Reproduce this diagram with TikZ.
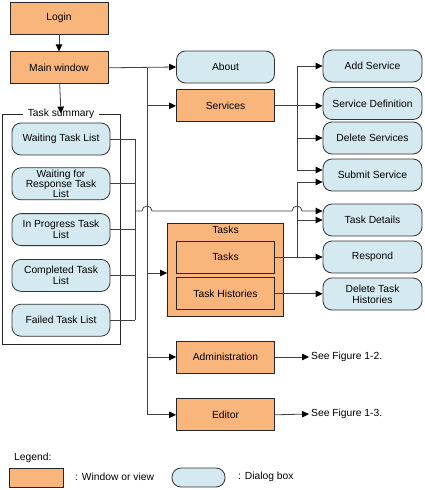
\documentclass[tikz,border=0pt]{standalone}
\usepackage{fontspec}
\setmainfont{Liberation Sans}
\usetikzlibrary{positioning,calc,arrows.meta}
\definecolor{winorange}{RGB}{248,182,125}
\definecolor{dlgblue}{RGB}{212,234,240}
\tikzset{winnode/.style={shape=rectangle, draw=black!85, fill=winorange, line width=0.8pt, minimum width=98pt, minimum height=32pt, inner sep=1pt, align=center, font=\fontsize{10.3}{11}\selectfont}}
\tikzset{dlgnode/.style={shape=rectangle, rounded corners=9pt, draw=black!80, fill=dlgblue, line width=0.8pt, minimum width=98pt, minimum height=32pt, inner sep=1pt, align=center, font=\fontsize{10.3}{11}\selectfont}}
\tikzset{plaintext/.style={inner sep=2pt, font=\fontsize{10.3}{11}\selectfont}}
\tikzset{conn/.style={draw=black!75, line width=0.8pt}}
\tikzset{arr/.style={conn, -{Triangle[length=7pt,width=6.5pt,black]}}}

\begin{document}
\begin{tikzpicture}[x=1pt,y=-1pt]
\useasboundingbox (0,0) rectangle (424,490);
%Nodes
\node[winnode]   (login)  at (59,18)   {Login};
\node[winnode]   (main)   [below=17pt of login] {Main window};
\node[draw=black!85, line width=0.8pt, minimum width=118pt, minimum height=230pt] (summary) at (61,229) {};
\node[plaintext, fill=white, inner sep=5pt] (sumlabel) at (summary.north) {Task summary};
\node[dlgnode]   (wait)   at (61,139)  {Waiting Task List};
\node[dlgnode, font=\fontsize{10.3}{10.3}\selectfont] (resp) [below=12pt of wait] {Waiting for\\Response Task\\List};
\node[dlgnode]   (prog)   [below=13pt of resp] {In Progress Task\\List};
\node[dlgnode]   (done)   [below=13pt of prog] {Completed Task\\List};
\node[dlgnode]   (failed) [below=12pt of done] {Failed Task List};
\node[dlgnode]   (about)    at (225.5,67)  {About};
\node[winnode]   (services) [below=6pt of about] {Services};
\node[winnode, minimum width=116pt, minimum height=93pt] (taskbox) at (225.5,269.5) {};
\node[plaintext] (tasklabel) at (225.5,230) {Tasks};
\node[winnode]   (tasksin)  at (225.5,257) {Tasks};
\node[winnode]   (taskhist) [below=4pt of tasksin] {Task Histories};
\node[winnode]   (admin)    at (225.5,357) {Administration};
\node[winnode]   (editor)   [below=25pt of admin] {Editor};
\node[dlgnode, minimum width=99pt] (addsvc)  at (372.5,66)  {Add Service};
\node[dlgnode, minimum width=99pt] (svcdef)  at (372.5,103.5) {Service Definition};
\node[dlgnode, minimum width=99pt] (delsvc)  at (372.5,138) {Delete Services};
\node[dlgnode, minimum width=99pt] (submit)  at (372.5,175) {Submit Service};
\node[dlgnode, minimum width=99pt] (details) at (372.5,220) {Task Details};
\node[dlgnode, minimum width=99pt] (respond) at (372.5,257) {Respond};
\node[dlgnode, minimum width=99pt] (delhist) at (372.5,294) {Delete Task\\Histories};
\node[plaintext, anchor=west] (fig12) at (309,357) {See Figure 1-2.};
\node[plaintext, anchor=west] (fig13) at (309,414) {See Figure 1-3.};
%Legend
\node[plaintext, anchor=west] (legend) at (12,458) {Legend:};
\node[winnode, minimum width=54pt, minimum height=19pt] (legwin) at (36,477.5) {};
\node[plaintext, anchor=west] (legwintext) at (73,477) {: Window or view};
\node[dlgnode, minimum width=53pt, minimum height=19pt] (legdlg) at (198.5,477.5) {};
\node[plaintext, anchor=west] (legdlgtext) at (236,477) {: Dialog box};
%Bus coordinates
\coordinate (trunk) at (147,0);
\coordinate (sbus)  at (297,0);
\coordinate (tbus)  at (135,211);
%Lines
\draw[arr] (login) -- (main);
\draw[arr] (main) -- (summary.north);
\draw[arr] (main.east) -- (about.west);
\draw[arr] (trunk |- main) |- (services.west);
\draw[arr] (trunk |- main) |- ([yshift=-3.5pt]taskbox.west);
\draw[arr] (trunk |- main) |- (admin.west);
\draw[arr] (trunk |- main) |- (editor.west);
\draw[arr] (services.east) -- (svcdef.west |- services);
\draw[arr] (sbus |- services) |- (addsvc.west);
\draw[arr] (sbus |- services) |- (delsvc.west);
\draw[arr] (sbus |- delsvc) |- ([yshift=5pt]submit.west);
\draw[arr] (tasksin.east) -- (respond.west |- tasksin);
\draw[arr] (sbus |- tasksin) |- ([yshift=-7pt]submit.west);
\draw[arr] (sbus |- details) -- (details.west);
\draw[arr] (taskhist.east) -- (delhist.west |- taskhist);
\draw[arr] (admin.east) -- (fig12.west);
\draw[arr] (editor.east) -- (fig13.west);
\foreach \n in {wait,resp,prog,done,failed}
  \draw[conn] (\n.east) -- (\n.east -| tbus);
\draw[conn] (wait.east -| tbus) -- (failed.east -| tbus);
\draw[arr] (tbus) -- ([xshift=-5pt]trunk |- tbus) arc[start angle=180, end angle=0, radius=5pt]
  -- ([xshift=-5pt]sbus |- tbus) arc[start angle=180, end angle=0, radius=5pt]
  -- (details.west |- tbus);
\end{tikzpicture}
\end{document}
